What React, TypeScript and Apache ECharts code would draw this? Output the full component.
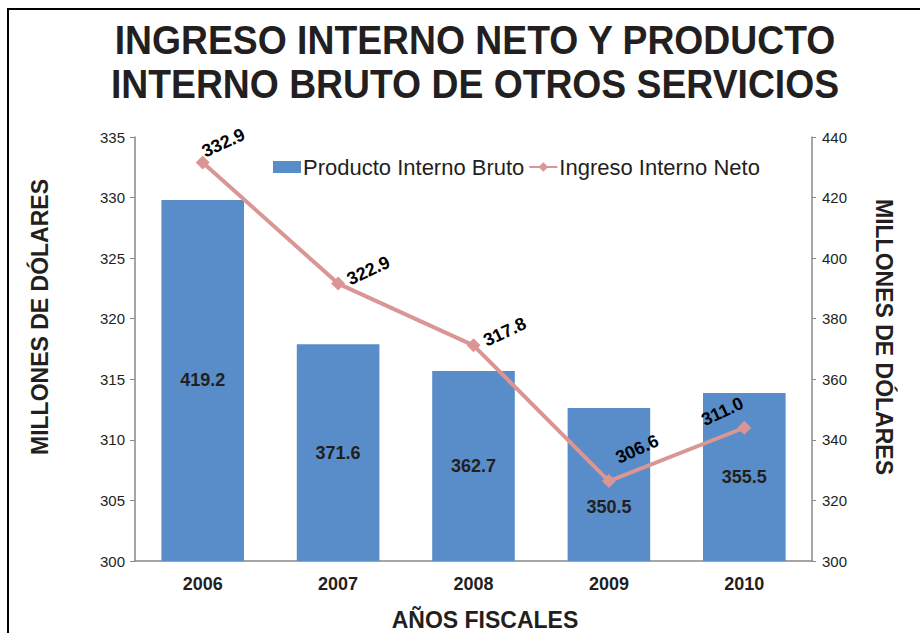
import React, { useEffect, useRef } from "react";
import * as echarts from "echarts";

const categories = ["2006", "2007", "2008", "2009", "2010"];
const productoInternoBruto = [419.2, 371.6, 362.7, 350.5, 355.5];
const ingresoInternoNeto = [332.9, 322.9, 317.8, 306.6, 311.0];
const leftAxisTicks = { min: 300, max: 335, interval: 5 };
const rightAxisTicks = { min: 300, max: 440, interval: 20 };
const titleLines = ["INGRESO INTERNO NETO Y PRODUCTO", "INTERNO BRUTO DE OTROS SERVICIOS"];
const yAxisTitle = "MILLONES DE DÓLARES";
const xAxisTitle = "AÑOS FISCALES";

const lineLabelOffsets = [
  [27, -9],
  [33, 1],
  [34, 1],
  [39, -17],
  [-13, -24],
];
const barLabelOffsets = [[0, 0], [0, 0], [0, 0], [0, 22], [0, 0]];

export default function App() {
  const ref = useRef<HTMLDivElement>(null);
  useEffect(() => {
    if (!ref.current) return;
    const chart = echarts.init(ref.current, undefined, { renderer: "svg" });
    const font = "Liberation Sans, Arial, sans-serif";
    const dark = "#231f20";
    chart.setOption({
      animation: false,
      backgroundColor: "#ffffff",
      textStyle: { fontFamily: font },
      graphic: [
        {
          type: "rect",
          shape: { x: 8, y: 9, width: 930, height: 650 },
          style: { fill: "none", stroke: "#000", lineWidth: 2 },
          silent: true,
        },
        ...titleLines.map((t, i) => ({
          type: "text",
          x: 475,
          y: 40 + i * 44,
          scaleX: 0.91,
          style: {
            text: t,
            font: "bold 41px Liberation Sans, Arial, sans-serif",
            fill: dark,
            textAlign: "center",
            textVerticalAlign: "middle",
          },
          silent: true,
        })),
        {
          type: "text",
          x: 40,
          y: 317,
          rotation: Math.PI / 2,
          style: {
            text: yAxisTitle,
            font: "bold 23px Liberation Sans, Arial, sans-serif",
            fill: dark,
            textAlign: "center",
            textVerticalAlign: "middle",
          },
          silent: true,
        },
        {
          type: "text",
          x: 884,
          y: 337,
          rotation: -Math.PI / 2,
          style: {
            text: yAxisTitle,
            font: "bold 23px Liberation Sans, Arial, sans-serif",
            fill: dark,
            textAlign: "center",
            textVerticalAlign: "middle",
          },
          silent: true,
        },
        {
          type: "text",
          x: 485,
          y: 620,
          style: {
            text: xAxisTitle,
            font: "bold 23px Liberation Sans, Arial, sans-serif",
            fill: dark,
            textAlign: "center",
            textVerticalAlign: "middle",
          },
          silent: true,
        },
      ],
      legend: {
        top: 151,
        left: 268,
        itemGap: 4,
        itemWidth: 28,
        itemHeight: 12,
        textStyle: { fontSize: 22, color: dark, fontFamily: font, padding: [0, 0, 0, -3] },
        data: [
          { name: "Producto Interno Bruto", icon: "rect" },
          { name: "Ingreso Interno Neto" },
        ],
      },
      grid: { left: 135, right: 108, top: 137, bottom: 72 },
      xAxis: {
        type: "category",
        data: categories,
        axisLine: { lineStyle: { color: "#888", width: 1.5 } },
        axisTick: { show: false },
        axisLabel: { fontSize: 18, fontWeight: "bold", color: dark, margin: 14 },
      },
      yAxis: [
        {
          type: "value",
          min: leftAxisTicks.min,
          max: leftAxisTicks.max,
          interval: leftAxisTicks.interval,
          axisLine: { show: true, lineStyle: { color: "#888", width: 1.5 } },
          axisTick: { show: true, length: 5, lineStyle: { color: "#888" } },
          axisLabel: { fontSize: 15, color: dark, margin: 10 },
          splitLine: { show: false },
        },
        {
          type: "value",
          min: rightAxisTicks.min,
          max: rightAxisTicks.max,
          interval: rightAxisTicks.interval,
          axisLine: { show: true, lineStyle: { color: "#888", width: 1.5 } },
          axisTick: { show: true, length: 4, lineStyle: { color: "#888" } },
          axisLabel: { fontSize: 15, color: dark, margin: 10 },
          splitLine: { show: false },
        },
      ],
      series: [
        {
          name: "Producto Interno Bruto",
          type: "bar",
          yAxisIndex: 1,
          barWidth: "61%",
          itemStyle: { color: "#588dca" },
          data: productoInternoBruto.map((v, i) => ({
            value: v,
            label: { offset: barLabelOffsets[i] },
          })),
          label: {
            show: true,
            position: "inside",
            fontSize: 18,
            fontWeight: "bold",
            color: dark,
            formatter: (p: any) => Number(p.value).toFixed(1),
          },
        },
        {
          name: "Ingreso Interno Neto",
          type: "line",
          yAxisIndex: 0,
          symbol: "diamond",
          symbolSize: 14,
          lineStyle: { color: "#d99694", width: 4 },
          itemStyle: { color: "#d99694" },
          data: ingresoInternoNeto.map((v, i) => ({
            value: v,
            label: { offset: lineLabelOffsets[i] },
          })),
          label: {
            show: true,
            position: "inside",
            rotate: 25,
            fontSize: 18,
            fontWeight: "bold",
            color: "#000",
            formatter: (p: any) => Number(p.value).toFixed(1),
          },
        },
      ],
    });
    return () => chart.dispose();
  }, []);
  return (
    <div
      ref={ref}
      style={{ position: "fixed", left: 0, top: 0, width: 920, height: 633 }}
    />
  );
}
